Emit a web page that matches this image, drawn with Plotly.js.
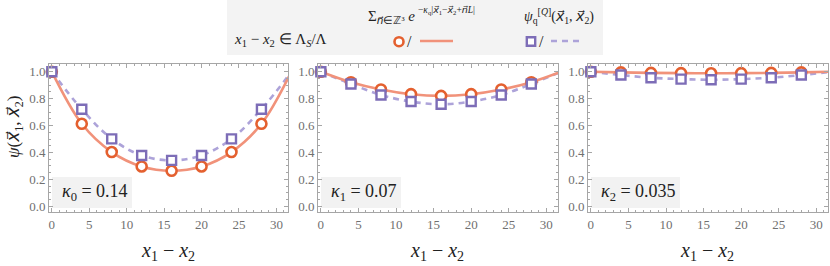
<!DOCTYPE html>
<html>
<head>
<meta charset="utf-8">
<script src="https://cdn.plot.ly/plotly-3.0.1.min.js"></script>
<style>html,body{margin:0;padding:0;background:#fff;}#plot{width:830px;height:266px;}</style>
</head>
<body>
<div id="plot"></div>
<script>
// ---- data ----
const sepPoints = [0, 4, 8, 12, 16, 20, 24, 28];          // lattice separations (markers)
const sepCurve  = [0, 4, 8, 12, 16, 20, 24, 28, 32];      // curve nodes (periodic, L = 32)
const kappaLabels = ["<i>κ</i><sub>0</sub> = 0.14", "<i>κ</i><sub>1</sub> = 0.07", "<i>κ</i><sub>2</sub> = 0.035"];

const sumExp0 = [1.0, 0.613, 0.403, 0.296, 0.264, 0.296, 0.403, 0.613, 1.0];
const psiQ0   = [1.0, 0.721, 0.501, 0.378, 0.341, 0.378, 0.501, 0.721, 1.0];
const sumExp1 = [1.0, 0.922, 0.868, 0.833, 0.820, 0.833, 0.868, 0.922, 1.0];
const psiQ1   = [1.0, 0.909, 0.827, 0.778, 0.758, 0.778, 0.827, 0.909, 1.0];
const sumExp2 = [1.0, 0.995, 0.991, 0.989, 0.988, 0.989, 0.991, 0.995, 1.0];
const psiQ2   = [1.0, 0.975, 0.955, 0.945, 0.940, 0.945, 0.955, 0.975, 1.0];

const xTicks = [0, 5, 10, 15, 20, 25, 30];
const yTicks = [0.0, 0.2, 0.4, 0.6, 0.8, 1.0];

// ---- styling ----
const ORANGE = "#E4602F", SALMON = "#F1927A", PURPLE = "#7D6DB7", LAVENDER = "#ADA3D9";
const SERIF = "Liberation Serif";
const W = 830, H = 266;
const px = v => v / W, py = v => 1 - v / H;
// vector symbol (combining arrow only renders in DejaVu Sans)
const vec = s => '<span style="font-family:DejaVu Sans;font-style:italic">' + s + '\u20D7</span>';

const panelX = [[49, 288], [318, 558], [588, 828]];
const panelY = [64, 212];
const sums = [sumExp0, sumExp1, sumExp2];
const psis = [psiQ0, psiQ1, psiQ2];

const traces = [];
const layout = {
  width: W, height: H,
  margin: {l: 0, r: 0, t: 0, b: 0},
  paper_bgcolor: "#fff", plot_bgcolor: "#fff",
  showlegend: false,
  font: {family: SERIF, color: "#222"},
  shapes: [], annotations: []
};

function ann(x, y, text, size, xanchor, extra) {
  layout.annotations.push(Object.assign({xref: "paper", yref: "paper", x: px(x), y: py(y),
    xanchor: xanchor || "left", yanchor: "middle", showarrow: false, text: text,
    font: {family: SERIF, size: size, color: "#222"}}, extra || {}));
}

for (let p = 0; p < 3; p++) {
  const sfx = p === 0 ? "" : String(p + 1);
  const xa = "x" + sfx, ya = "y" + sfx;
  traces.push({x: sepCurve, y: psis[p], xaxis: xa, yaxis: ya, mode: "lines",
    line: {color: LAVENDER, width: 2.6, dash: "6px,5px", shape: "spline", smoothing: 1}, hoverinfo: "skip"});
  traces.push({x: sepCurve, y: sums[p], xaxis: xa, yaxis: ya, mode: "lines",
    line: {color: SALMON, width: 2.6, shape: "spline", smoothing: 1}, hoverinfo: "skip"});
  traces.push({x: sepPoints, y: sums[p].slice(0, sepPoints.length), xaxis: xa, yaxis: ya, mode: "markers",
    marker: {symbol: "circle", size: 10, color: "#fff", line: {color: ORANGE, width: 2.6}}, cliponaxis: false});
  traces.push({x: sepPoints, y: psis[p].slice(0, sepPoints.length), xaxis: xa, yaxis: ya, mode: "markers",
    marker: {symbol: "square", size: 9, color: "#fff", line: {color: PURPLE, width: 2.4}}, cliponaxis: false});

  const common = {
    showline: true, linecolor: "#a6a6a6", linewidth: 1, mirror: "allticks",
    ticks: "inside", ticklen: 4, tickcolor: "#a6a6a6", tickwidth: 1,
    showgrid: false, zeroline: false,
    tickfont: {family: SERIF, size: 13, color: "#707070"}
  };
  layout["xaxis" + sfx] = Object.assign({}, common, {
    domain: [px(panelX[p][0]), px(panelX[p][1])], range: [-0.38, 31.55],
    anchor: ya, tickvals: xTicks, ticktext: xTicks.map(String),
    minor: {ticks: "inside", dtick: 1, tick0: 0, ticklen: 2, tickcolor: "#a6a6a6", showgrid: false}
  });
  layout["yaxis" + sfx] = Object.assign({}, common, {
    domain: [py(panelY[1]), py(panelY[0])], range: [-0.042, 1.057],
    anchor: xa, tickvals: yTicks, ticktext: yTicks.map(v => v.toFixed(1)),
    minor: {ticks: "inside", dtick: 0.05, tick0: 0, ticklen: 2, tickcolor: "#a6a6a6", showgrid: false}
  });

  // x axis title
  ann((panelX[p][0] + panelX[p][1]) / 2 - 1, 251, "<i>x</i><sub>1</sub> − <i>x</i><sub>2</sub>", 20, "center");

  // kappa label box
  const bx0 = panelX[p][0] + 3;
  const bw = [80, 80, 89][p];
  layout.shapes.push({type: "rect", xref: "paper", yref: "paper", layer: "below",
    x0: px(bx0), x1: px(bx0 + bw), y0: py(208), y1: py(177), fillcolor: "#f2f2f2", line: {width: 0}});
  ann(bx0 + 8, 192.5, kappaLabels[p], 18, "left");
}

// y axis title (left panel only)
ann(14, 127, "<i>ψ</i>(" + vec("x") + "<sub>1</sub>, " + vec("x") + "<sub>2</sub>)", 17, "center", {textangle: -90});

// ---- legend box ----
layout.shapes.push({type: "rect", xref: "paper", yref: "paper", layer: "below",
  x0: px(227), x1: px(603), y0: py(55), y1: py(0), fillcolor: "#f3f3f3", line: {width: 0}});
ann(232, 40, "<i>x</i><sub>1</sub> − <i>x</i><sub>2</sub> ∈ Λ<sub><i>S</i></sub>/Λ", 15, "left");
ann(366, 17, "Σ<sub>" + vec("n") + "∈ℤ³</sub> <i>e</i>", 15, "left");
ann(416, 10, "−<i>κ</i><sub>q</sub>|" + vec("x") + "<sub>1</sub>−" + vec("x") + "<sub>2</sub>+" + vec("n") + "<i>L</i>|", 9.5, "left");
ann(522, 16, "<i>ψ</i><sub>q</sub><sup>[<i>Q</i>]</sup>(" + vec("x") + "<sub>1</sub>, " + vec("x") + "<sub>2</sub>)", 14, "left");
// legend symbols
layout.shapes.push({type: "circle", xref: "paper", yref: "paper", x0: px(394.5), x1: px(403.5), y0: py(46.2), y1: py(37.2),
  line: {color: ORANGE, width: 2.6}, fillcolor: "#fff"});
layout.shapes.push({type: "line", xref: "paper", yref: "paper", x0: px(420), x1: px(453), y0: py(41), y1: py(41),
  line: {color: SALMON, width: 2.6}});
layout.shapes.push({type: "rect", xref: "paper", yref: "paper", x0: px(526.8), x1: px(535.2), y0: py(45.7), y1: py(37.3),
  line: {color: PURPLE, width: 2.4}, fillcolor: "#fff"});
layout.shapes.push({type: "line", xref: "paper", yref: "paper", x0: px(551), x1: px(583), y0: py(41), y1: py(41),
  line: {color: LAVENDER, width: 2.6, dash: "6px,5px"}});
ann(409, 41, "/", 16, "center");
ann(541, 41, "/", 16, "center");

Plotly.newPlot("plot", traces, layout, {staticPlot: true, displayModeBar: false});
</script>
</body>
</html>
